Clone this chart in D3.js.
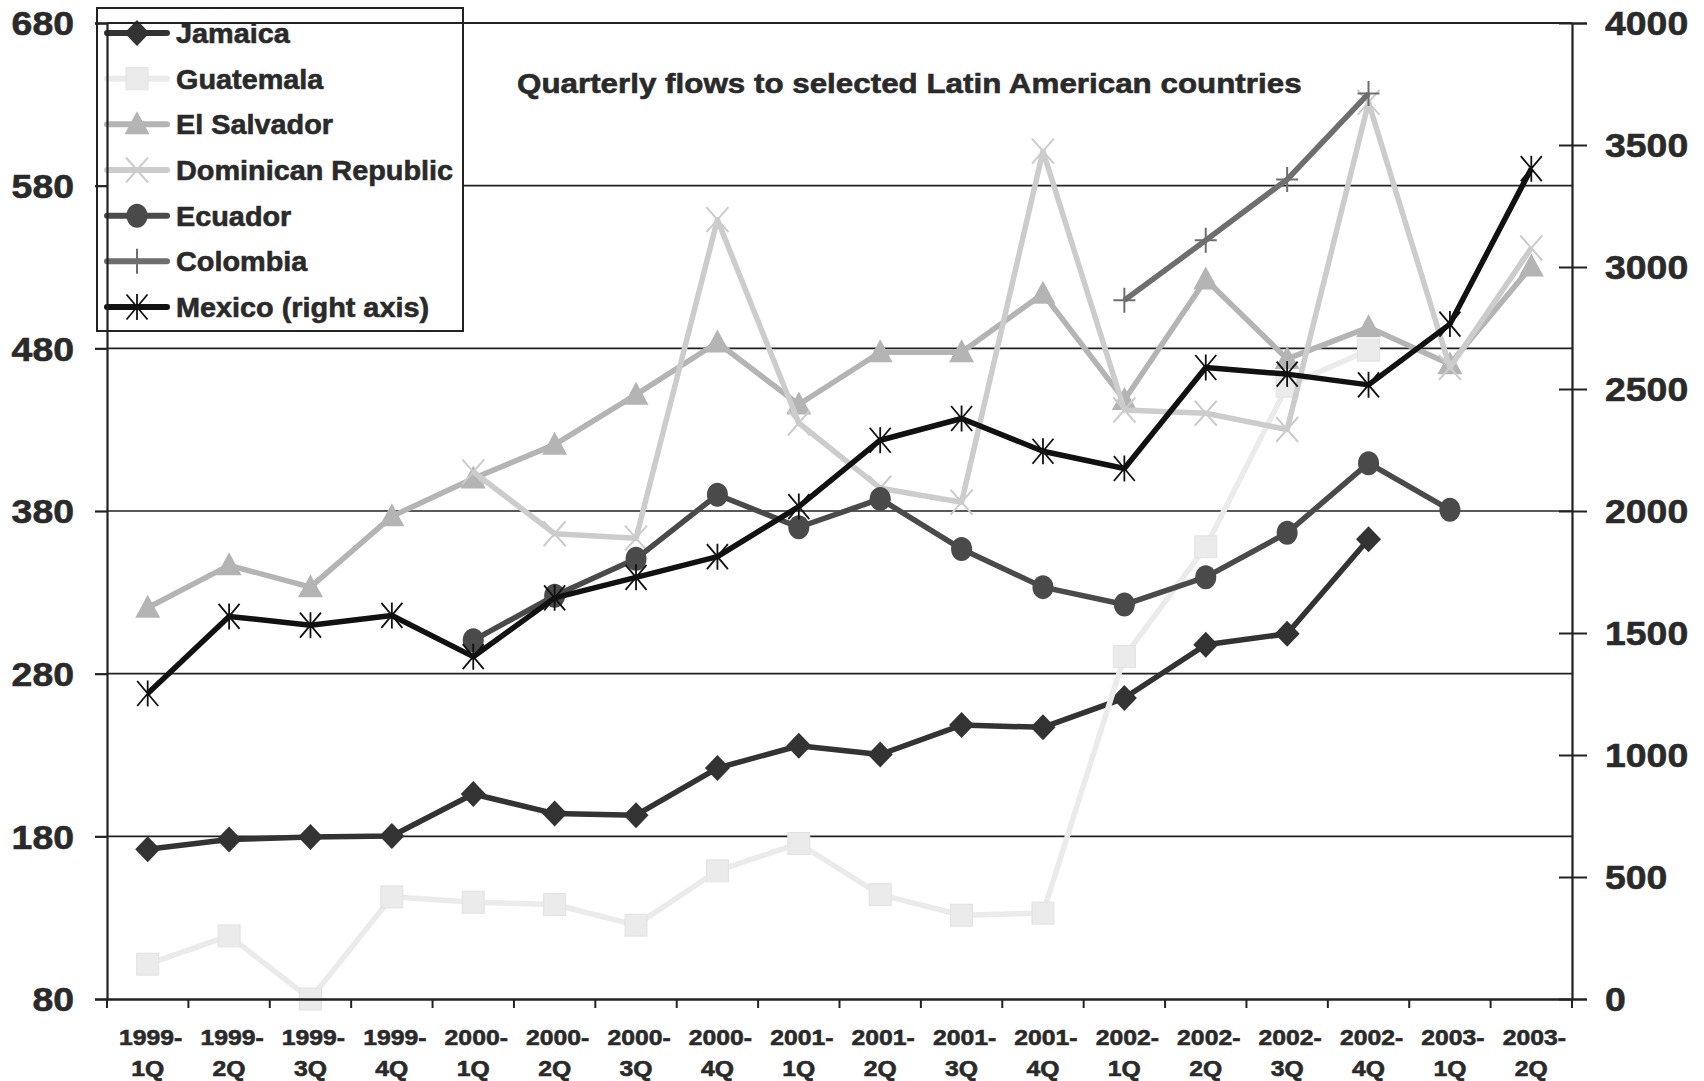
<!DOCTYPE html>
<html><head><meta charset="utf-8">
<script src="https://cdn.jsdelivr.net/npm/d3@7"></script>
<style>body{margin:0;background:#fff}svg text{font-family:"Liberation Sans",Arial,sans-serif;font-weight:bold;fill:#2a2a2a;stroke:#2a2a2a;stroke-width:0.6px}</style>
</head><body><svg id="chart" width="1704" height="1081"></svg>
<script>
// ---------- data ----------
const categories = ["1999-1Q","1999-2Q","1999-3Q","1999-4Q","2000-1Q","2000-2Q","2000-3Q","2000-4Q",
  "2001-1Q","2001-2Q","2001-3Q","2001-4Q","2002-1Q","2002-2Q","2002-3Q","2002-4Q","2003-1Q","2003-2Q"];
const jamaica   = [172,178,179.6,180.2,206,194,193,222,235.7,230.3,248.4,247,265,297.8,304.5,362.6,null,null];
const guatemala = [101.4,118.8,80,142.8,139.5,138.1,125.4,158.8,175.6,144.2,131.5,132.8,290.5,358,456.8,478.9,null,null];
const elSalvador= [320.5,346.6,333.2,376.7,400,420.8,451.5,483.6,445.5,477.6,477.6,513.6,448.2,522.3,473.5,492.9,470.2,530.3];
const dominican = [null,null,null,null,404.1,366,363.3,559.1,434.1,394,385.4,601.2,442.1,440.1,430.1,631.2,468.2,541.7];
const ecuador   = [null,null,null,null,300.5,327.9,350.6,390,370,387.4,356.6,333.2,322.5,339.3,366.6,409.4,380.7,null];
const colombia  = [null,null,null,null,null,null,null,null,null,null,null,null,509.6,546.4,583.8,636.6,null,null];
const mexico    = [1252,1568,1532,1572,1403,1644,1728,1813,2018,2290,2379,2245,2174,2588,2561,2517,2766,3403];
const seriesNames = ["Jamaica","Guatemala","El Salvador","Dominican Republic","Ecuador","Colombia","Mexico (right axis)"];
const leftTicks  = [80,180,280,380,480,580,680];
const rightTicks = [0,500,1000,1500,2000,2500,3000,3500,4000];
const title = "Quarterly flows to selected Latin American countries";

// ---------- styles ----------
const styles = [
  {data: jamaica,    color:"#333333", marker:"diamond", axis:"left"},
  {data: guatemala,  color:"#ebebeb", marker:"square",  axis:"left"},
  {data: elSalvador, color:"#b4b4b4", marker:"triangle",axis:"left"},
  {data: dominican,  color:"#cccccc", marker:"cross",   axis:"left"},
  {data: ecuador,    color:"#4a4a4a", marker:"circle",  axis:"left"},
  {data: colombia,   color:"#6e6e6e", marker:"plus",    axis:"left"},
  {data: mexico,     color:"#111111", marker:"star",    axis:"right"}
];

const svg = d3.select("#chart");
const L = 107, R = 1572, T = 23, B = 999;
const x = d3.scaleBand().domain(categories).range([L, R]).padding(0);
const yL = d3.scaleLinear().domain([80, 680]).range([B, T]);
const yR = d3.scaleLinear().domain([0, 4000]).range([B, T]);
const cx = c => x(c) + x.bandwidth() / 2;
const AX = "#222";

// gridlines (under legend)
const grid = svg.append("g");
grid.selectAll("line").data(leftTicks.filter(v => v > 80 && v < 680)).join("line")
  .attr("x1", L).attr("x2", R).attr("y1", d => yL(d)).attr("y2", d => yL(d))
  .attr("stroke", AX).attr("stroke-width", 1.6);

// marker drawer
function drawMarker(g, type, color) {
  switch (type) {
    case "diamond": g.append("path").attr("d","M0,-13L12.5,0L0,13L-12.5,0Z").attr("fill",color); break;
    case "square":  g.append("rect").attr("x",-11).attr("y",-11).attr("width",22).attr("height",22).attr("fill",color).attr("stroke","#e2e2e2").attr("stroke-width",1); break;
    case "triangle":g.append("path").attr("d","M0,-13L12.5,10L-12.5,10Z").attr("fill",color); break;
    case "circle":  g.append("ellipse").attr("rx",10.5).attr("ry",12).attr("fill",color); break;
    case "cross":   g.append("path").attr("d","M-11,-12.5L11,12.5M-11,12.5L11,-12.5").attr("stroke",color).attr("stroke-width",2).attr("fill","none"); break;
    case "plus":    g.append("path").attr("d","M-11,0L11,0M0,-12.5L0,12.5").attr("stroke",color).attr("stroke-width",2).attr("fill","none"); break;
    case "star":    g.append("path").attr("d","M-10.5,-12.5L10.5,12.5M-10.5,12.5L10.5,-12.5M0,-13L0,13").attr("stroke",color).attr("stroke-width",1.8).attr("fill","none"); break;
  }
}

// series
const plot = svg.append("g");
styles.forEach(s => {
  const ys = s.axis === "left" ? yL : yR;
  const line = d3.line().defined(d => d[1] != null).x(d => cx(d[0])).y(d => ys(d[1]));
  const pts = categories.map((c, i) => [c, s.data[i]]);
  plot.append("path").datum(pts).attr("d", line).attr("fill","none")
    .attr("stroke", s.color).attr("stroke-width", 5.5).attr("stroke-linejoin","round");
  pts.filter(p => p[1] != null).forEach(p => {
    const g = plot.append("g").attr("transform", `translate(${cx(p[0])},${ys(p[1])})`);
    drawMarker(g, s.marker, s.color);
  });
});

// legend
const leg = svg.append("g");
leg.append("rect").attr("x",97).attr("y",8).attr("width",366).attr("height",323)
  .attr("fill","#fff").attr("stroke",AX).attr("stroke-width",2);
styles.forEach((s, i) => {
  const yy = 33 + i * 45.67;
  leg.append("line").attr("x1",107).attr("x2",167).attr("y1",yy).attr("y2",yy)
    .attr("stroke", s.color).attr("stroke-width", 6).attr("stroke-linecap","round");
  drawMarker(leg.append("g").attr("transform",`translate(137,${yy})`), s.marker, s.color);
  leg.append("text").attr("transform",`translate(176,${yy}) scale(1.03,1)`).attr("dy","0.36em")
    .style("font-size","28px").text(seriesNames[i]);
});

// axes (on top)
const ax = svg.append("g");
ax.append("line").attr("x1",L).attr("x2",R).attr("y1",yL(680)).attr("y2",yL(680)).attr("stroke",AX).attr("stroke-width",1.8);
svg.append("g").attr("transform",`translate(${L},0)`)
  .call(d3.axisLeft(yL).tickValues(leftTicks).tickSize(12).tickFormat(""))
  .call(g => { g.selectAll("line,path").attr("stroke",AX).attr("stroke-width",2.2); });
svg.append("g").attr("transform",`translate(${R},0)`)
  .call(d3.axisRight(yR).tickValues(rightTicks).tickSize(15).tickFormat(""))
  .call(g => { g.selectAll("path").attr("stroke",AX).attr("stroke-width",2.2);
               g.selectAll(".tick line").attr("x1",-13).attr("stroke",AX).attr("stroke-width",2); });
const xb = d3.range(categories.length + 1).map(i => L + i * x.bandwidth());
svg.append("g").attr("transform",`translate(0,${B})`)
  .call(d3.axisBottom(x).tickSize(0).tickFormat(""))
  .call(g => { g.select("path").attr("stroke",AX).attr("stroke-width",2.5); g.selectAll(".tick").remove(); });
ax.selectAll(".xt").data(xb).join("line").attr("x1",d=>d).attr("x2",d=>d).attr("y1",B).attr("y2",B+9)
  .attr("stroke",AX).attr("stroke-width",2);

// tick labels
ax.selectAll(".yl").data(leftTicks).join("text")
  .attr("transform", d => `translate(74,${yL(d)}) scale(1.1,1)`).attr("dy","0.36em")
  .attr("text-anchor","end").style("font-size","34px").text(d => d);
ax.selectAll(".yr").data(rightTicks).join("text")
  .attr("transform", d => `translate(1605,${yR(d)}) scale(1.1,1)`).attr("dy","0.36em")
  .attr("text-anchor","start").style("font-size","34px").text(d => d);
categories.forEach(c => {
  const [yr, q] = c.split("-");
  ax.append("text").attr("transform",`translate(${cx(c)+3},1045) scale(1.1,1)`).attr("text-anchor","middle")
    .style("font-size","22.5px").text(yr + "-");
  ax.append("text").attr("transform",`translate(${cx(c)},1076) scale(1.1,1)`).attr("text-anchor","middle")
    .style("font-size","22.5px").text(q);
});

// title
svg.append("text").attr("transform","translate(517,93) scale(1.12,1)")
  .style("font-size","28px").text(title);
</script></body></html>
